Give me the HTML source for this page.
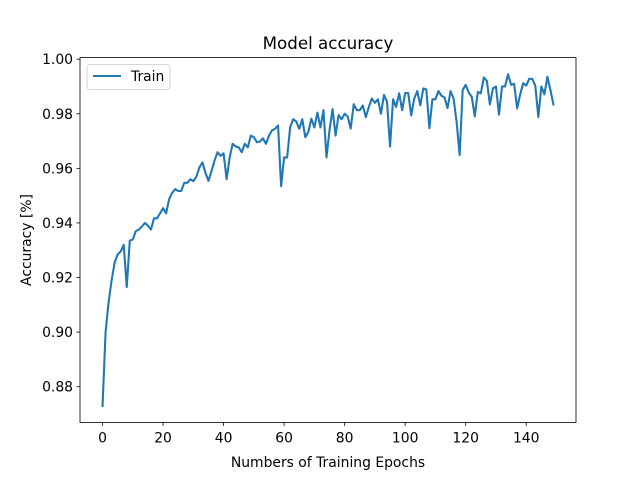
<!DOCTYPE html>
<html><head><meta charset="utf-8"><style>
html,body{margin:0;padding:0;background:#fff;}
svg{display:block;font-family:"DejaVu Sans","Liberation Sans",sans-serif;}
</style></head><body>
<svg id="chart" width="640" height="480" viewBox="0 0 640 480">
<rect x="0" y="0" width="640" height="480" fill="#fff"/>
<text x="328" y="49" text-anchor="middle" font-size="16.7" fill="#000">Model accuracy</text>
<g id="xticks"></g>
<g id="yticks"></g>
<path id="line" fill="none" stroke="#1f77b4" stroke-width="2.08" stroke-linejoin="round" stroke-linecap="square"/>
<rect x="80" y="57.6" width="496" height="364.8" fill="none" stroke="#000" stroke-width="0.8"/>
<text x="328" y="467" text-anchor="middle" font-size="13.9" fill="#000">Numbers of Training Epochs</text>
<text transform="translate(31,240) rotate(-90)" text-anchor="middle" font-size="13.9" fill="#000">Accuracy [%]</text>
<g>
<rect x="87" y="64.5" width="83" height="25" rx="3" fill="#fff" fill-opacity="0.8" stroke="#ccc" stroke-width="0.8"/>
<line x1="93" y1="76" x2="121" y2="76" stroke="#1f77b4" stroke-width="2.08"/>
<text x="131" y="81" font-size="13.9" fill="#000">Train</text>
</g>
</svg>
<script>
const xTicks = [0, 20, 40, 60, 80, 100, 120, 140];
const yTicks = [0.88, 0.90, 0.92, 0.94, 0.96, 0.98, 1.00];
const yTickLabels = ["0.88", "0.90", "0.92", "0.94", "0.96", "0.98", "1.00"];
const trainAcc = [
0.873,0.900,0.911,0.919,0.9255,0.9285,0.9295,0.932,0.9165,0.9335,
0.934,0.937,0.9376,0.9387,0.940,0.939,0.9376,0.9417,0.9417,0.9435,
0.9454,0.9435,0.9487,0.951,0.9524,0.9517,0.9517,0.9547,0.9547,0.956,
0.9553,0.957,0.9603,0.9622,0.9584,0.9554,0.959,0.9628,0.9659,0.9646,
0.9655,0.956,0.964,0.969,0.968,0.9677,0.9659,0.969,0.9677,0.972,
0.9714,0.9696,0.9698,0.971,0.969,0.972,0.9739,0.9745,0.9757,0.9535,
0.964,0.964,0.9751,0.978,0.9772,0.9745,0.978,0.9714,0.9733,0.9782,
0.975,0.9804,0.975,0.9813,0.964,0.974,0.9817,0.972,0.9795,0.978,
0.980,0.979,0.9746,0.9835,0.9813,0.9813,0.983,0.9788,0.9825,0.9856,
0.984,0.9853,0.980,0.9869,0.9844,0.968,0.9853,0.9825,0.9875,0.9813,
0.9876,0.9876,0.9794,0.9856,0.9883,0.9831,0.9893,0.9889,0.9747,0.9853,
0.9853,0.9883,0.9866,0.986,0.9821,0.9883,0.9856,0.977,0.9649,0.9887,
0.9906,0.9878,0.9862,0.979,0.988,0.9875,0.9933,0.992,0.9834,0.9893,
0.990,0.9797,0.990,0.990,0.9945,0.9906,0.991,0.982,0.9871,0.9912,
0.9903,0.9928,0.9928,0.9903,0.9788,0.990,0.9871,0.9936,0.9887,0.9834
];
const NS = "http://www.w3.org/2000/svg";
const L = 80, R = 576, T = 57.6, B = 422.4;
const n = trainAcc.length;
const xMin = -0.05 * (n - 1), xMax = (n - 1) * 1.05;
const dMin = Math.min(...trainAcc), dMax = Math.max(...trainAcc);
const pad = (dMax - dMin) * 0.05;
const yMin = dMin - pad, yMax = dMax + pad;
function xScale(v) { return L + (v - xMin) / (xMax - xMin) * (R - L); }
function yScale(v) { return B - (v - yMin) / (yMax - yMin) * (B - T); }
const xg = document.getElementById('xticks');
xTicks.forEach(t => {
  const x = xScale(t);
  const ln = document.createElementNS(NS, 'line');
  ln.setAttribute('x1', x); ln.setAttribute('x2', x);
  ln.setAttribute('y1', B); ln.setAttribute('y2', B + 3.5);
  ln.setAttribute('stroke', '#000'); ln.setAttribute('stroke-width', '0.8');
  
  
  xg.appendChild(ln);
  const tx = document.createElementNS(NS, 'text');
  tx.setAttribute('x', x); tx.setAttribute('y', B + 20);
  tx.setAttribute('text-anchor', 'middle'); tx.setAttribute('font-size', '13.9');
  tx.textContent = String(t);
  
  
  xg.appendChild(tx);
});
const yg = document.getElementById('yticks');
yTicks.forEach((t, i) => {
  const y = yScale(t);
  const ln = document.createElementNS(NS, 'line');
  ln.setAttribute('x1', L - 3.5); ln.setAttribute('x2', L);
  ln.setAttribute('y1', y); ln.setAttribute('y2', y);
  ln.setAttribute('stroke', '#000'); ln.setAttribute('stroke-width', '0.8');
  
  
  yg.appendChild(ln);
  const tx = document.createElementNS(NS, 'text');
  tx.setAttribute('x', L - 7); tx.setAttribute('y', y + 5);
  tx.setAttribute('text-anchor', 'end'); tx.setAttribute('font-size', '13.9');
  tx.textContent = yTickLabels[i];
  
  
  yg.appendChild(tx);
});
let d = '';
trainAcc.forEach((v, i) => { d += (i ? 'L' : 'M') + xScale(i).toFixed(2) + ',' + yScale(v).toFixed(2); });
document.getElementById('line').setAttribute('d', d);
</script>
</body></html>
